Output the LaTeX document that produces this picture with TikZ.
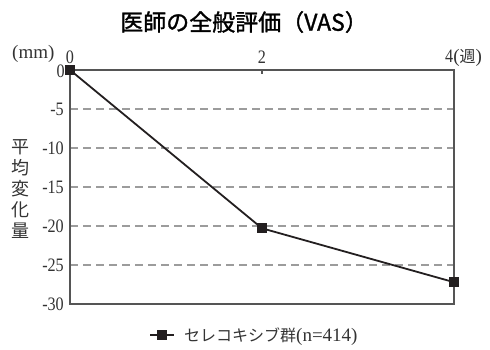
\documentclass[tikz,border=0pt]{standalone}
\usepackage{fontspec}
\setmainfont{Liberation Serif}
\newfontfamily\narrowserif{Liberation Serif}[FakeStretch=0.85]
\newfontfamily\gothic{Noto Sans CJK JP}[FakeBold=1.3]
\newfontfamily\mincho{Noto Sans CJK JP}
\definecolor{axisc}{HTML}{555555}
\definecolor{gridc}{HTML}{9C9C9C}
\definecolor{datac}{HTML}{231F20}
\definecolor{textc}{HTML}{333333}
\tikzset{
  gridline/.style={gridc, line width=1.2pt, dash pattern=on 8pt off 5pt},
  frame/.style={axisc, line width=1.5pt},
  dataline/.style={datac, line width=1.8pt},
  marker/.style={rectangle, fill=datac, minimum size=10pt, inner sep=0pt},
  ticklab/.style={text=textc, font=\narrowserif\fontsize{19}{19}\selectfont, inner sep=0pt},
  plainlab/.style={text=textc, font=\fontsize{19}{19}\selectfont, inner sep=0pt},
}
\begin{document}
\begin{tikzpicture}[x=1pt,y=-1pt]
\useasboundingbox (0,0) rectangle (490,350);
% title
\node[font=\gothic\fontsize{23}{23}\selectfont, text=black] (title) at (244,22) {医師の全般評価（VAS）};
% grid
\foreach \v/\py in {5/109,10/148,15/187,20/226,25/265}{
  \draw[gridline] (70,\py) -- (454,\py);
  \node[ticklab, anchor=east] (yl\v) at (64,\py) {-\v};
}
\node[ticklab, anchor=east] (yl0) at (65,71) {0};
\node[ticklab, anchor=east] (yl30) at (64,304) {-30};
% frame
\draw[frame] (70,70) rectangle (454,304);
\draw[frame] (262,70) -- (262,74);
% top labels
\node[ticklab, anchor=base] (x0) at (70,64) {0};
\node[ticklab, anchor=base] (x2) at (262,64) {2};
\node[plainlab, anchor=base west] (x4) at (445,63) {{\narrowserif 4}({\mincho\fontsize{16}{16}\selectfont 週})};
\node[plainlab, anchor=base west] (unit) at (12,59) {(mm)};
% y title
\node[text=textc, font=\mincho\fontsize{18}{21}\selectfont, align=center, inner sep=0pt] (ytitle) at (20,189) {平\\均\\変\\化\\量};
% data
\coordinate (p0) at (70,70);
\coordinate (p2) at (262,228.3);
\coordinate (p4) at (454,282.2);
\draw[dataline] (p0) -- (p2) -- (p4);
\node[marker] (m0) at (p0) {};
\node[marker] (m2) at (p2) {};
\node[marker] (m4) at (p4) {};
% legend
\coordinate (la) at (150,335);
\coordinate (lb) at (174,335);
\draw[dataline] (la) -- (lb);
\node[marker] (lm) at (162,335) {};
\node[plainlab, anchor=base west] (ltext) at (184,341) {{\mincho\fontsize{16}{16}\selectfont セレコキシブ群}(n=414)};
\end{tikzpicture}
\end{document}
